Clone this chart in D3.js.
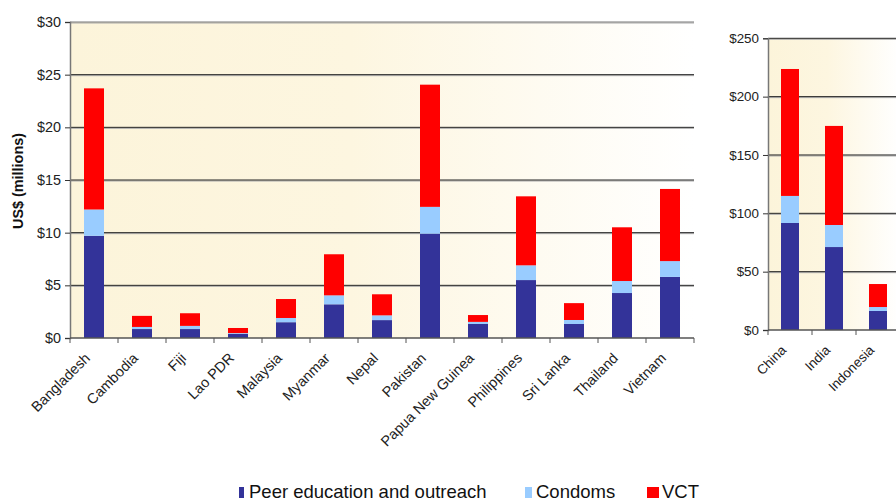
<!DOCTYPE html>
<html>
<head>
<meta charset="utf-8">
<script src="https://cdn.jsdelivr.net/npm/d3@7"></script>
<style>
  body { margin: 0; background: #fff; }
  svg { font-family: Arial, "Liberation Sans", sans-serif; }
</style>
</head>
<body>
<svg></svg>
<script>
// small countries (US$ millions)
let countries = ['Bangladesh', 'Cambodia', 'Fiji', 'Lao PDR', 'Malaysia', 'Myanmar', 'Nepal', 'Pakistan', 'Papua New Guinea', 'Philippines', 'Sri Lanka', 'Thailand', 'Vietnam'];
let peer = [9.7, 0.85, 0.85, 0.4, 1.5, 3.2, 1.7, 9.9, 1.33, 5.5, 1.33, 4.27, 5.8];
let condoms = [2.5, 0.2, 0.3, 0.07, 0.4, 0.85, 0.45, 2.55, 0.2, 1.4, 0.38, 1.14, 1.5];
let vct = [11.5, 1.05, 1.2, 0.48, 1.8, 3.9, 2.0, 11.6, 0.65, 6.55, 1.6, 5.1, 6.85];

// big countries
let bigCountries = ['China', 'India', 'Indonesia'];
let bigPeer = [91.7, 71.1, 16.3];
let bigCondoms = [23.2, 18.9, 3.4];
let bigVct = [108.8, 84.9, 19.7];

let leftTicks = [0, 5, 10, 15, 20, 25, 30];
let rightTicks = [0, 50, 100, 150, 200, 250];

let seriesNames = ['Peer education and outreach', 'Condoms', 'VCT'];
let colors = ['#333399', '#99ccff', '#ff0000'];

let width = 896;
let height = 500;

let svg = d3.select('svg').attr('width', width).attr('height', height);

let defs = svg.append('defs');
let grad = defs.append('linearGradient').attr('id', 'bg').attr('x1', '0%').attr('x2', '100%');
grad.append('stop').attr('offset', '0%').attr('stop-color', '#fcf4da');
grad.append('stop').attr('offset', '45%').attr('stop-color', '#fdf6e0');
grad.append('stop').attr('offset', '100%').attr('stop-color', '#ffffff');

const drawPanel = (cats, series, ticks, box, barWidth, fontSize) => {
    let x = d3.scaleBand().domain(cats).range([box.left, box.right]);
    let y = d3.scaleLinear().domain([0, ticks[ticks.length - 1]]).range([box.bottom, box.top]);

    let rows = cats.map((c, i) => ({ name: c, p: series[0][i], c: series[1][i], v: series[2][i] }));
    let stacked = d3.stack().keys(['p', 'c', 'v'])(rows);

    svg.append('rect')
        .attr('x', box.left).attr('y', box.top)
        .attr('width', box.right - box.left).attr('height', box.bottom - box.top)
        .attr('fill', 'url(#bg)');

    // gridlines
    let grid = svg.append('g');
    grid.selectAll('line.shadow')
        .data(ticks.slice(1))
        .enter().append('line')
        .attr('x1', box.left).attr('x2', box.right)
        .attr('y1', d => y(d) + 1).attr('y2', d => y(d) + 1)
        .attr('stroke', '#aaa').attr('stroke-width', 1);
    grid.selectAll('line.main')
        .data(ticks.slice(1))
        .enter().append('line')
        .attr('x1', box.left).attr('x2', box.right)
        .attr('y1', d => y(d)).attr('y2', d => y(d))
        .attr('stroke', (d, i) => i === ticks.length - 2 && box.topGray ? '#777' : '#222')
        .attr('stroke-width', 1);

    svg.append('g')
        .selectAll('g')
        .data(stacked)
        .enter().append('g')
        .attr('fill', (d, i) => colors[i])
        .selectAll('rect')
        .data(d => d)
        .enter().append('rect')
        .attr('x', d => x(d.data.name) + (x.bandwidth() - barWidth) / 2)
        .attr('width', barWidth)
        .attr('y', d => y(d[1]))
        .attr('height', d => y(d[0]) - y(d[1]));

    // y axis
    let yAxis = d3.axisLeft(y).tickValues(ticks).tickSize(5).tickFormat(d => '$' + d);
    let ya = svg.append('g').attr('transform', 'translate(' + box.left + ',0)').call(yAxis);
    ya.select('.domain').attr('stroke', '#777').attr('stroke-width', 1.5);
    ya.selectAll('.tick line').attr('stroke', '#333');
    ya.selectAll('.tick text').attr('font-size', fontSize).attr('fill', '#222').attr('x', -9);

    // x axis, ticks at category boundaries
    let bounds = cats.map(c => x(c)).concat([box.right]);
    let xb = svg.append('g');
    xb.append('line')
        .attr('x1', box.left).attr('x2', box.right)
        .attr('y1', box.bottom).attr('y2', box.bottom)
        .attr('stroke', '#555').attr('stroke-width', 1.5);
    xb.selectAll('line.tk')
        .data(bounds)
        .enter().append('line')
        .attr('x1', d => d).attr('x2', d => d)
        .attr('y1', box.bottom).attr('y2', box.bottom + 5)
        .attr('stroke', '#555');
    xb.selectAll('text')
        .data(cats)
        .enter().append('text')
        .attr('transform', d => 'translate(' + (x(d) + x.bandwidth() / 2 - 3) + ',' + (box.bottom + 21) + ') rotate(-45)')
        .attr('text-anchor', 'end')
        .attr('font-size', fontSize)
        .attr('fill', '#222')
        .text(d => d);
};

drawPanel(countries, [peer, condoms, vct], leftTicks,
    { left: 70, right: 694, top: 22, bottom: 338, topGray: true }, 20, 14.4);
drawPanel(bigCountries, [bigPeer, bigCondoms, bigVct], rightTicks,
    { left: 768, right: 900, top: 38.3, bottom: 330, topGray: false }, 18, 13.4);

svg.append('text')
    .attr('transform', 'translate(23,181) rotate(-90)')
    .attr('text-anchor', 'middle')
    .attr('font-size', 14.4)
    .attr('font-weight', 'bold')
    .attr('fill', '#111')
    .text('US$ (millions)');

// legend
let legend = [
    { x: 239, w: 5, tx: 249 },
    { x: 525, w: 7, tx: 536 },
    { x: 647, w: 12, tx: 662 }
];
let lg = svg.append('g');
lg.selectAll('rect')
    .data(legend)
    .enter().append('rect')
    .attr('x', d => d.x).attr('y', 487)
    .attr('width', d => d.w).attr('height', 11)
    .attr('fill', (d, i) => colors[i]);
lg.selectAll('text')
    .data(legend)
    .enter().append('text')
    .attr('x', d => d.tx).attr('y', 497.5)
    .attr('font-size', 18.5)
    .attr('fill', '#111')
    .text((d, i) => seriesNames[i]);
</script>
</body>
</html>
